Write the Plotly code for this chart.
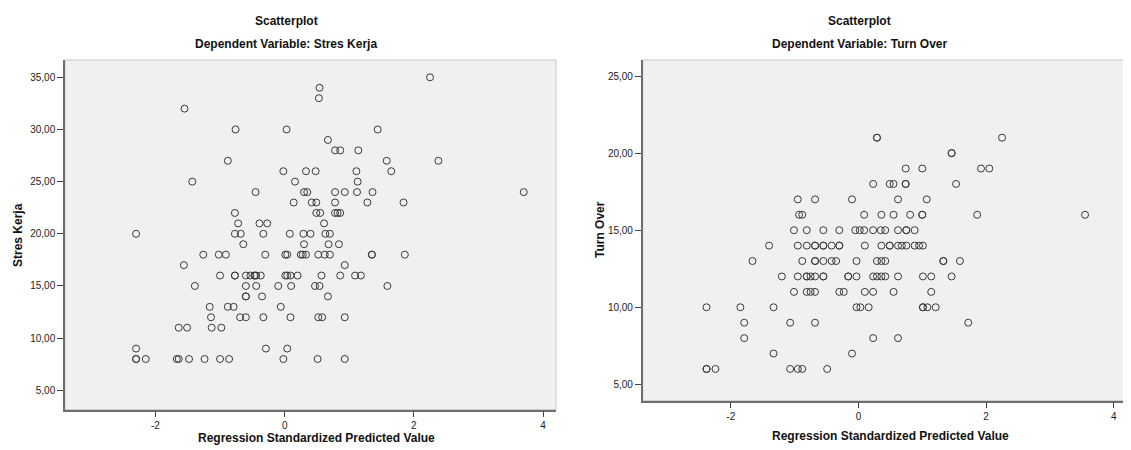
import plotly.graph_objects as go

# ---------------- data ----------------
# Left chart: Dependent Variable: Stres Kerja
stres_pred = [
    2.25,
    0.54,
    0.53,
    -1.55,
    -0.76, 0.03, 1.44,
    0.67,
    0.78, 0.86, 1.14,
    -0.88, 1.58, 2.38,
    -0.02, 0.33, 0.48, 1.11, 1.65,
    -1.43, 0.16, 1.13,
    -0.45, 0.30, 0.35, 0.78, 0.93, 1.12, 1.36, 3.70,
    0.14, 0.42, 0.49, 0.78, 1.28, 1.84,
    -0.77, 0.49, 0.55, 0.78, 0.82, 0.86,
    -0.72, -0.39, -0.27, 0.61,
    -2.30, -0.77, -0.68, -0.33, 0.08, 0.29, 0.40, 0.63, 0.70,
    -0.64, 0.30, 0.68, 0.84,
    -1.26, -1.02, -0.91, -0.30, 0.01, 0.04, 0.25, 0.28, 0.33, 0.52, 0.62, 0.70, 1.35, 1.35, 1.86,
    -1.56, 0.93,
    -1.00, -0.77, -0.77, -0.60, -0.53, -0.47, -0.46, -0.44, -0.37, 0.01, 0.04, 0.09, 0.20, 0.57, 0.86, 1.09, 1.18,
    -1.39, -0.60, -0.44, -0.10, 0.10, 0.47, 0.54, 1.59,
    -0.60, -0.60, -0.35, 0.67,
    -1.16, -0.88, -0.79, -0.06,
    -1.14, -0.69, -0.60, -0.33, 0.09, 0.52, 0.58, 0.93,
    -1.64, -1.51, -1.13, -0.98,
    -2.30, -0.29, 0.04,
    -2.30, -2.30, -2.15, -1.67, -1.64, -1.48, -1.24, -1.00, -0.86, -0.02, 0.51, 0.93,
]
stres_kerja = [
    35,
    34,
    33,
    32,
    30, 30, 30,
    29,
    28, 28, 28,
    27, 27, 27,
    26, 26, 26, 26, 26,
    25, 25, 25,
    24, 24, 24, 24, 24, 24, 24, 24,
    23, 23, 23, 23, 23, 23,
    22, 22, 22, 22, 22, 22,
    21, 21, 21, 21,
    20, 20, 20, 20, 20, 20, 20, 20, 20,
    19, 19, 19, 19,
    18, 18, 18, 18, 18, 18, 18, 18, 18, 18, 18, 18, 18, 18, 18,
    17, 17,
    16, 16, 16, 16, 16, 16, 16, 16, 16, 16, 16, 16, 16, 16, 16, 16, 16,
    15, 15, 15, 15, 15, 15, 15, 15,
    14, 14, 14, 14,
    13, 13, 13, 13,
    12, 12, 12, 12, 12, 12, 12, 12,
    11, 11, 11, 11,
    9, 9, 9,
    8, 8, 8, 8, 8, 8, 8, 8, 8, 8, 8, 8,
]

# Right chart: Dependent Variable: Turn Over
turn_pred = [
    0.29, 0.29, 2.25,
    1.46, 1.46,
    0.74, 1.00, 1.92, 2.05,
    0.23, 0.49, 0.55, 0.74, 0.74, 1.53,
    -0.95, -0.68, -0.10, 0.62, 1.07,
    -0.93, -0.88, 0.09, 0.36, 0.55, 0.81, 1.00, 1.00, 1.86, 3.55,
    -1.01, -0.81, -0.55, -0.30, -0.05, 0.02, 0.09, 0.23, 0.35, 0.42, 0.62, 0.75, 0.75, 0.88,
    -1.40, -0.95, -0.81, -0.68, -0.68, -0.55, -0.55, -0.42, -0.30, -0.30, 0.10, 0.36, 0.49, 0.49, 0.62, 0.68, 0.75, 0.88, 0.95, 1.01,
    -1.66, -0.88, -0.68, -0.68, -0.55, -0.42, -0.35, -0.03, 0.29, 0.36, 0.42, 1.33, 1.33, 1.59,
    -1.20, -0.95, -0.81, -0.81, -0.75, -0.68, -0.55, -0.55, -0.16, -0.16, -0.03, 0.23, 0.29, 0.36, 0.42, 0.62, 1.01, 1.14, 1.46,
    -1.01, -0.81, -0.75, -0.68, -0.30, -0.23, 0.10, 0.23, 0.55, 1.14,
    -2.38, -1.85, -1.33, -0.03, 0.03, 0.16, 1.01, 1.01, 1.08, 1.21,
    -1.79, -1.07, -0.68, 1.72,
    -1.79, 0.23, 0.62,
    -1.33, -0.10,
    -2.38, -2.38, -2.24, -1.07, -0.95, -0.88, -0.49,
]
turn_over = [
    21, 21, 21,
    20, 20,
    19, 19, 19, 19,
    18, 18, 18, 18, 18, 18,
    17, 17, 17, 17, 17,
    16, 16, 16, 16, 16, 16, 16, 16, 16, 16,
    15, 15, 15, 15, 15, 15, 15, 15, 15, 15, 15, 15, 15, 15,
    14, 14, 14, 14, 14, 14, 14, 14, 14, 14, 14, 14, 14, 14, 14, 14, 14, 14, 14, 14,
    13, 13, 13, 13, 13, 13, 13, 13, 13, 13, 13, 13, 13, 13,
    12, 12, 12, 12, 12, 12, 12, 12, 12, 12, 12, 12, 12, 12, 12, 12, 12, 12, 12,
    11, 11, 11, 11, 11, 11, 11, 11, 11, 11,
    10, 10, 10, 10, 10, 10, 10, 10, 10, 10,
    9, 9, 9, 9,
    8, 8, 8,
    7, 7,
    6, 6, 6, 6, 6, 6, 6,
]

x_tickvals = [-2, 0, 2, 4]
x_ticktext = ["-2", "0", "2", "4"]
left_y_tickvals = [5, 10, 15, 20, 25, 30, 35]
left_y_ticktext = ["5,00", "10,00", "15,00", "20,00", "25,00", "30,00", "35,00"]
right_y_tickvals = [5, 10, 15, 20, 25]
right_y_ticktext = ["5,00", "10,00", "15,00", "20,00", "25,00"]

# ---------------- styling ----------------
# the page body keeps its default 8px margin, so the figure is drawn 8px in
# from the top-left corner; size it so it ends exactly at the window edge.
OFF = 8
W, H = 1131 - OFF, 450 - OFF
FONT = "Liberation Sans, Arial, sans-serif"
AXIS_COL = "#6e6e6e"
FRAME_COL = "#c8c8c8"
MARK_COL = "#3a3a3a"

marker = dict(symbol="circle-open", size=7, color=MARK_COL, line=dict(width=1, color=MARK_COL))

fig = go.Figure()
fig.add_trace(go.Scatter(x=stres_pred, y=stres_kerja, mode="markers", marker=marker,
                         xaxis="x", yaxis="y", showlegend=False, hoverinfo="x+y"))
fig.add_trace(go.Scatter(x=turn_pred, y=turn_over, mode="markers", marker=marker,
                         xaxis="x2", yaxis="y2", showlegend=False, hoverinfo="x+y"))


def px_x(p):
    return (p - OFF) / W


def px_y(p):
    return 1 - (p - OFF) / H


axis_common = dict(
    showgrid=False, zeroline=False, showline=True, linecolor=AXIS_COL, linewidth=1.5,
    ticks="outside", ticklen=6, tickwidth=1, tickcolor="#444444",
    tickfont=dict(family=FONT, size=10, color="#222222"), mirror=False, fixedrange=True,
)

fig.update_layout(
    width=W, height=H,
    margin=dict(l=0, r=0, t=0, b=0),
    paper_bgcolor="white",
    plot_bgcolor="#f0f0f0",
    xaxis=dict(domain=[px_x(65), px_x(556)], range=[-3.40, 4.20], anchor="y",
               tickvals=x_tickvals, ticktext=x_ticktext, **axis_common),
    yaxis=dict(domain=[px_y(409.6), px_y(60)], range=[3.15, 36.66], anchor="x",
               tickvals=left_y_tickvals, ticktext=left_y_ticktext, **axis_common),
    xaxis2=dict(domain=[px_x(642.7), 1.0], range=[-3.38, 4.27], anchor="y2",
                tickvals=x_tickvals, ticktext=x_ticktext, **axis_common),
    yaxis2=dict(domain=[px_y(400.7), px_y(60)], range=[3.94, 26.04], anchor="x2",
                tickvals=right_y_tickvals, ticktext=right_y_ticktext, **axis_common),
)

# light frame on top / right edges
for xr, yr in (("x", "y"), ("x2", "y2")):
    fig.add_shape(type="rect", xref=f"{xr} domain", yref=f"{yr} domain",
                  x0=0, x1=1, y0=0, y1=1, line=dict(color=FRAME_COL, width=1),
                  layer="below")

title_font = dict(family=FONT, size=12, color="#111111")
ann = [
    (286, 21, "<b>Scatterplot</b>", 0),
    (286, 44, "<b>Dependent Variable: Stres Kerja</b>", 0),
    (859, 21, "<b>Scatterplot</b>", 0),
    (859, 44, "<b>Dependent Variable: Turn Over</b>", 0),
    (316, 438, "<b>Regression Standardized Predicted Value</b>", 0),
    (890, 436, "<b>Regression Standardized Predicted Value</b>", 0),
    (18, 235, "<b>Stres Kerja</b>", -90),
    (600, 230, "<b>Turn Over</b>", -90),
]
for x, y, t, ang in ann:
    fig.add_annotation(x=px_x(x), y=px_y(y), xref="paper", yref="paper", text=t,
                       showarrow=False, font=title_font, textangle=ang,
                       xanchor="center", yanchor="middle")

fig.write_html("out.html")
